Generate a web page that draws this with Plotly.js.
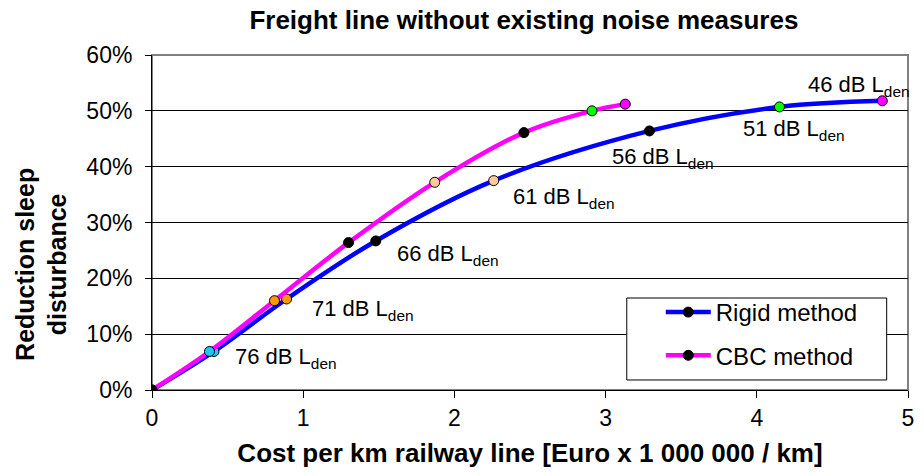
<!DOCTYPE html>
<html>
<head>
<meta charset="utf-8">
<script src="https://cdn.plot.ly/plotly-3.0.1.min.js"></script>
<style>html,body{margin:0;padding:0;background:#fff;}#chart{width:924px;height:476px;}</style>
</head>
<body>
<div id="chart"></div>
<script>
// Data
var levels = ["0", "76 dB", "71 dB", "66 dB", "61 dB", "56 dB", "51 dB", "46 dB"];
var rigidCost = [0, 0.41, 0.89, 1.48, 2.26, 3.29, 4.15, 4.83];
var rigidReduction = [0, 0.069, 0.163, 0.267, 0.375, 0.464, 0.507, 0.518];
var cbcCost = [0, 0.38, 0.81, 1.30, 1.87, 2.46, 2.91, 3.13];
var cbcReduction = [0, 0.069, 0.160, 0.264, 0.372, 0.461, 0.500, 0.512];
var pointColors = ["#000000", "#1EC8F0", "#FF9900", "#000000", "#FFCC99", "#000000", "#00FF00", "#FF00FF"];

// Label texts and where they sit (data coordinates)
var labelTexts = ["76 dB L<sub>den</sub>", "71 dB L<sub>den</sub>", "66 dB L<sub>den</sub>", "61 dB L<sub>den</sub>", "56 dB L<sub>den</sub>", "51 dB L<sub>den</sub>", "46 dB L<sub>den</sub>"];
var labelX = [0.536, 1.045, 1.607, 2.374, 3.029, 3.895, 4.325];
var labelY = [0.0565, 0.143, 0.242, 0.343, 0.416, 0.466, 0.545];

var FONT = "Liberation Sans, Arial, sans-serif";

var traces = [
  {
    x: rigidCost, y: rigidReduction, name: "Rigid method", text: levels,
    mode: "lines+markers", type: "scatter", legendgroup: "a",
    line: {color: "#0000FF", width: 4.5, shape: "spline", smoothing: 1},
    marker: {color: pointColors, size: 10, line: {color: "#000000", width: 1}}
  },
  {
    x: cbcCost, y: cbcReduction, name: "CBC method", text: levels,
    mode: "lines+markers", type: "scatter", legendgroup: "b",
    line: {color: "#FF00FF", width: 4.5, shape: "spline", smoothing: 1},
    marker: {color: pointColors, size: 10, line: {color: "#000000", width: 1}}
  }
];

var annotations = labelTexts.map(function (t, i) {
  return {x: labelX[i], y: labelY[i], xref: "x", yref: "y", text: t, showarrow: false,
          xanchor: "left", yanchor: "middle", font: {family: FONT, size: 22, color: "#000"}};
});
annotations.push({
  text: "<b>Reduction sleep<br>disturbance</b>", xref: "paper", yref: "paper",
  x: -0.147, y: 0.376, xanchor: "center", yanchor: "middle", textangle: -90, showarrow: false,
  font: {family: FONT, size: 25, color: "#000"}
});

var layout = {
  width: 924, height: 476,
  margin: {l: 152, r: 16, t: 55, b: 86},
  paper_bgcolor: "#fff", plot_bgcolor: "#fff",
  font: {family: FONT, size: 22, color: "#000"},
  title: {text: "<b>Freight line without existing noise measures</b>", x: 0.567, xanchor: "center", y: 0.958, yanchor: "middle",
          font: {family: FONT, size: 26, color: "#000"}},
  showlegend: true,
  legend: {x: 0.673, y: 0.2985, xanchor: "left", yanchor: "top",
           borderwidth: 0, bgcolor: "rgba(0,0,0,0)", itemwidth: 45,
           font: {family: FONT, size: 24, color: "#000"}, tracegroupgap: 9, traceorder: "grouped"},
  xaxis: {
    range: [0, 5], dtick: 1, tick0: 0, showgrid: false, zeroline: false,
    showline: true, linecolor: "#000", linewidth: 1,
    ticks: "outside", ticklen: 7, tickcolor: "#000",
    tickfont: {family: FONT, size: 23},
    title: {text: "<b>Cost per km railway line [Euro x 1 000 000 / km]</b>", font: {family: FONT, size: 26}, standoff: 14}
  },
  yaxis: {
    range: [0, 0.6], dtick: 0.1, tickformat: ".0%", showgrid: true, gridcolor: "#000", gridwidth: 1,
    zeroline: false, showline: true, linecolor: "#000", linewidth: 1,
    ticks: "outside", ticklen: 6, tickcolor: "#000", ticklabelstandoff: 8,
    tickfont: {family: FONT, size: 23}
  },
  shapes: [
    {type: "rect", xref: "paper", yref: "paper", x0: 0, x1: 1, y0: 0, y1: 1,
     line: {color: "#808080", width: 2}, layer: "below"},
    {type: "rect", xref: "paper", yref: "paper", x0: 0.628, x1: 0.9718, y0: 0.0299, y1: 0.2746,
     line: {color: "#000", width: 1}, fillcolor: "#fff", layer: "above"}
  ],
  annotations: annotations
};

Plotly.newPlot("chart", traces, layout, {displayModeBar: false, responsive: false});
</script>
</body>
</html>
